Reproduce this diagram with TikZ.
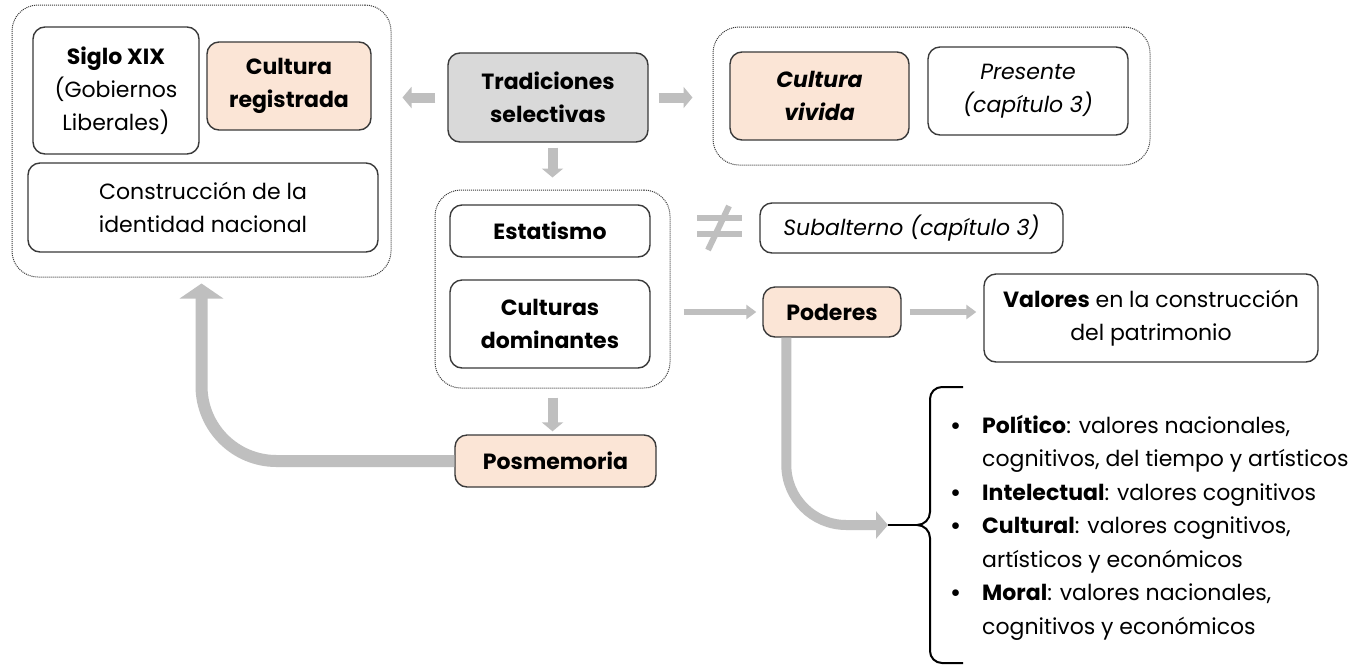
\documentclass[tikz,border=0pt]{standalone}
\usepackage{fontspec}
\setmainfont{Poppins}
\usetikzlibrary{arrows.meta,calc}
\definecolor{peach}{HTML}{FBE5D6}
\definecolor{boxgray}{HTML}{D9D9D9}
\definecolor{arrgray}{HTML}{BFBFBF}
\definecolor{edgec}{HTML}{3A3A3A}
\begin{document}
\begin{tikzpicture}[x=1pt,y=-1pt,
  box/.style={draw=edgec, line width=1.4pt, rounded corners=12pt, align=center, inner sep=0pt,
    font=\fontsize{22}{33}\selectfont},
  peachbox/.style={box, fill=peach},
  grp/.style={draw=edgec, line width=1pt, dash pattern=on 1pt off 1pt, rounded corners=26pt, inner sep=0pt},
  bigarr/.style={draw=arrgray, line width=10pt, -{Triangle[width=21pt,length=9pt]}},
  thinarr/.style={draw=arrgray, line width=6pt, -{Triangle[width=14pt,length=10pt]}},
  curvarr/.style={draw=arrgray, line width=10pt, -{Triangle[width=27pt,length=12pt]}},
  upcurv/.style={draw=arrgray, line width=12pt, -{Triangle[width=43pt,length=15pt]}},
  bracel/.style={draw=black, line width=2pt},
  neqbar/.style={draw=arrgray, line width=6pt}
]
\useasboundingbox (0,0) rectangle (1356,665);
\fill[white] (0,0) rectangle (1356,665);

% left group
\node[grp, minimum width=379pt, minimum height=272pt] (outerL) at (201.5,141) {};
\node[box, minimum width=166pt, minimum height=127pt] (siglo) at (116,90.5) {\textbf{Siglo XIX}\\(Gobiernos\\Liberales)};
\node[peachbox, minimum width=164pt, minimum height=88pt] (cultreg) at (289,86) {\textbf{Cultura}\\\textbf{registrada}};
\node[box, minimum width=350pt, minimum height=89pt] (constr) at (203,207.5) {Construcción de la\\identidad nacional};

% center
\node[box, fill=boxgray, minimum width=200pt, minimum height=89pt] (trad) at (548,97.5) {\textbf{Tradiciones}\\\textbf{selectivas}};
\node[grp, minimum width=235pt, minimum height=198pt] (mid) at (552.5,289) {};
\node[box, minimum width=200pt, minimum height=52pt] (estat) at (550,231) {\textbf{Estatismo}};
\node[box, minimum width=200pt, minimum height=88pt] (culdom) at (550,324) {\textbf{Culturas}\\\textbf{dominantes}};
\node[peachbox, minimum width=201pt, minimum height=52pt] (posm) at (555.5,461) {\textbf{Posmemoria}};

% right group
\node[grp, minimum width=437pt, minimum height=138pt] (outerR) at (931.5,96) {};
\node[peachbox, minimum width=179pt, minimum height=88pt] (cviv) at (819.5,96) {\textbf{\itshape Cultura}\\\textbf{\itshape vivida}};
\node[box, minimum width=200pt, minimum height=88pt] (pres) at (1028,91) {\itshape Presente\\\itshape (capítulo 3)};

\node[box, minimum width=303pt, minimum height=50pt] (subal) at (911.5,228) {\itshape Subalterno (capítulo 3)};
\node[peachbox, minimum width=138pt, minimum height=50pt] (poder) at (832,312) {\textbf{Poderes}};
\node[box, minimum width=334pt, minimum height=88pt] (valor) at (1151,318) {\textbf{Valores} en la construcción\\del patrimonio};

% not-equal sign
\draw[neqbar] (697,218) -- (742,218);
\draw[neqbar] (697,234) -- (742,234);
\draw[neqbar] (708,250) -- (729,206);

% arrows
\draw[bigarr, shorten <=12pt, shorten >=11pt] (trad.west) -- (trad.west -| outerL.east);
\draw[bigarr, shorten <=10pt, shorten >=20pt] (trad.east) -- (trad.east -| outerR.west);
\draw[bigarr, shorten <=5pt, shorten >=12pt] (mid.north |- trad.south) -- (mid.north);
\draw[bigarr, shorten <=9pt, shorten >=3pt] (mid.south) -- (mid.south |- posm.north);
\draw[thinarr, shorten <=13pt, shorten >=6pt] (mid.east |- poder.west) -- (poder.west);
\draw[thinarr, shorten <=8pt, shorten >=7pt] (poder.east) -- (poder.east -| valor.west);

% Posmemoria back to left group
\draw[upcurv, rounded corners=75pt, shorten >=6pt] (posm.west) -| (outerL.south);

% list with brace
\coordinate (arrend) at (888,525);
\coordinate (brtip) at (917,525);
\draw[curvarr, rounded corners=60pt] ([xshift=24pt]poder.south west) |- (arrend);
\draw[bracel] (arrend) -- (brtip);
\draw[bracel] (963,387) -- (942,387) to[out=180,in=90] (930,399) -- (930,512)
  to[out=-90,in=0] (brtip) to[out=0,in=90] (930,538) -- (930,651)
  to[out=-90,in=180] (942,663) -- (963,663);

\node[anchor=base west, inner sep=0pt, font=\fontsize{22}{33.5}\selectfont] (lista) at (950,433)
{\begin{tabular}[t]{@{}p{32pt}@{}l@{}}
\textbf{•}&\textbf{Político}: valores nacionales,\\
 &cognitivos, del tiempo y artísticos\\
\textbf{•}&\textbf{Intelectual}: valores cognitivos\\
\textbf{•}&\textbf{Cultural}: valores cognitivos,\\
 &artísticos y económicos\\
\textbf{•}&\textbf{Moral}: valores nacionales,\\
 &cognitivos y económicos
\end{tabular}};
\end{tikzpicture}
\end{document}
